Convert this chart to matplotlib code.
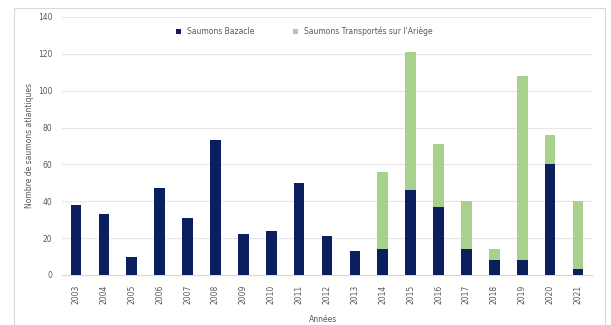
import matplotlib
matplotlib.use("Agg")
import matplotlib.pyplot as plt
from matplotlib.patches import Rectangle

annees = [str(a) for a in range(2003, 2022)]
bazacle = [38, 33, 10, 47, 31, 73, 22, 24, 50, 21, 13, 14, 46, 37, 14, 8, 8, 60, 3]
transportes = [0, 0, 0, 0, 0, 0, 0, 0, 0, 0, 0, 42, 75, 34, 26, 6, 100, 16, 37]

BLEU = "#0b1f5e"
VERT = "#a9d18e"
GRIS = "#595959"

W, H = 611, 325
fig = plt.figure(figsize=(W / 100, H / 100), dpi=100)
ax = fig.add_axes([62 / W, 1 - 275 / H, 530 / W, 258 / H])

x = range(len(annees))
ax.bar(x, bazacle, width=0.38, color=BLEU, label="Saumons Bazacle", zorder=3)
ax.bar(x, transportes, width=0.38, bottom=bazacle, color=VERT,
       label="Saumons Transportés sur l'Ariège", zorder=3)

ax.set_xlim(-0.5, len(annees) - 0.5)
ax.set_ylim(0, 140)
ax.set_yticks(range(0, 141, 20))
ax.set_xticks(list(x))
ax.set_xticklabels(annees, rotation=90)
ax.tick_params(axis="both", length=0, labelsize=5.5, colors=GRIS, pad=7)
ax.grid(True, axis="y", color="#e6e6e6", linewidth=0.8, zorder=0)
for s in ["top", "right", "left"]:
    ax.spines[s].set_visible(False)
ax.spines["bottom"].set_color("#d9d9d9")

# titres des axes placés en pixels de la figure
fig.text(30 / W, 1 - 146 / H, "Nombre de saumons atlantiques", rotation=90,
         ha="center", va="center", fontsize=5.5, color=GRIS)
fig.text(323 / W, 1 - 319 / H, "Années", ha="center", va="center",
         fontsize=5.5, color=GRIS)

ax.legend(loc="upper center", bbox_to_anchor=(0.457, 0.99), ncol=2, frameon=False,
          fontsize=5.5, labelcolor=GRIS, handlelength=0.7, handleheight=0.7,
          columnspacing=5)

# cadre du graphique
fig.patches.append(Rectangle((14 / W, -0.01), 591 / W, 1 - 8 / H + 0.01,
                             transform=fig.transFigure, fill=False,
                             edgecolor="#d9d9d9", linewidth=0.8))

fig.savefig("out.png", dpi=100)
